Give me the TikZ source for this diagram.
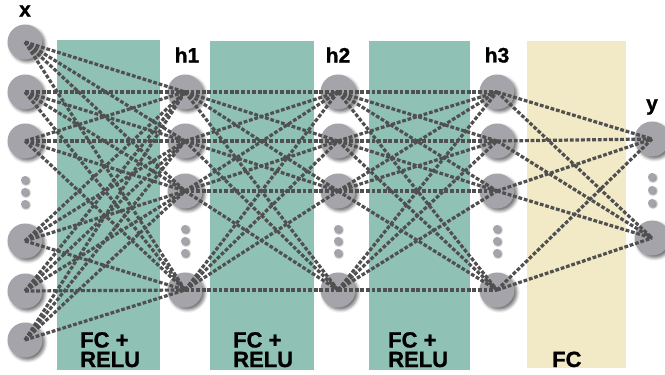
\documentclass[tikz,border=0pt]{standalone}
\usepackage{fontspec}
\setmainfont{Liberation Sans}
\newfontfamily\heavyfont[BoldFeatures={FakeBold=1.2}]{Liberation Sans}
\usetikzlibrary{shadows.blur}
\definecolor{fcgreen}{RGB}{143,193,181}
\definecolor{fcbeige}{RGB}{242,233,198}
\definecolor{neurongray}{RGB}{165,164,170}
\definecolor{edgegray}{RGB}{80,80,80}
\tikzset{
  neuron/.style={circle, fill=neurongray, minimum size=35pt, inner sep=0pt,
    blur shadow={shadow xshift=2.5pt, shadow yshift=-2.5pt, shadow blur radius=3pt, shadow opacity=55}},
  dotn/.style={circle, fill=neurongray, minimum size=8pt, inner sep=0pt,
    blur shadow={shadow xshift=1pt, shadow yshift=-1pt, shadow blur radius=1.5pt, shadow opacity=50}},
  edge/.style={draw=edgegray, line width=3.2pt, dash pattern=on 3.8pt off 1.8pt},
  band/.style={fill=fcgreen},
  bandfc/.style={fill=fcbeige},
  lbl/.style={font=\heavyfont\bfseries\fontsize{21}{21}\selectfont, inner sep=0pt},
  bandtxt/.style={font=\heavyfont\bfseries\fontsize{22}{19.5}\selectfont, inner sep=0pt,
    align=left, anchor=base west}
}
\begin{document}
\begin{tikzpicture}[x=1pt,y=-1pt]
\useasboundingbox (0,0) rectangle (665,375);
% bands
\fill[band] (57,40) rectangle (160,370);
\fill[band] (210,41) rectangle (314,370);
\fill[band] (369,41) rectangle (470,370);
\fill[bandfc] (527,41) rectangle (626,368);
% band texts
\node[bandtxt] (t1) at (80,367) {FC +\\RELU};
\node[bandtxt] (t2) at (233,367) {FC +\\RELU};
\node[bandtxt] (t3) at (388,367) {FC +\\RELU};
\node[bandtxt] (t4) at (552,367) {FC};
% layer labels
\node[lbl] (lx) at (25,11) {x};
\node[lbl] (lh1) at (187,55) {h1};
\node[lbl] (lh2) at (338,55) {h2};
\node[lbl] (lh3) at (497,55) {h3};
\node[lbl] (ly) at (652,107) {y};
% input neurons
\foreach \i/\yy in {1/42,2/92,3/141,4/241,5/291,6/340}
  \node[neuron] (x\i) at (25,\yy) {};
% hidden neurons
\foreach \L/\xx in {a/185,b/338,c/497}
  \foreach \i/\yy in {1/92,2/141,3/191,4/290}
    \node[neuron] (\L\i) at (\xx,\yy) {};
% output neurons
\node[neuron] (y1) at (652,139) {};
\node[neuron] (y2) at (652,238) {};
% ellipsis dots
\foreach \k/\yy in {1/180,2/192,3/204} \node[dotn] (dx\k) at (25,\yy) {};
\foreach \L/\xx in {a/185,b/338,c/497}
  \foreach \k/\yy in {1/229,2/241,3/253} \node[dotn] (d\L\k) at (\xx,\yy) {};
\foreach \k/\yy in {1/177,2/190,3/203} \node[dotn] (dy\k) at (652,\yy) {};
% edges
\foreach \i in {1,...,6}
  \foreach \j in {1,...,4}
    \draw[edge] (x\i.center) -- (a\j.center);
\foreach \i in {1,...,4}
  \foreach \j in {1,...,4}
    \draw[edge] (a\i.center) -- (b\j.center);
\foreach \i in {1,...,4}
  \foreach \j in {1,...,4}
    \draw[edge] (b\i.center) -- (c\j.center);
\foreach \i in {1,...,4}
  \foreach \j in {1,2}
    \draw[edge] (c\i.center) -- (y\j.center);
\end{tikzpicture}
\end{document}
